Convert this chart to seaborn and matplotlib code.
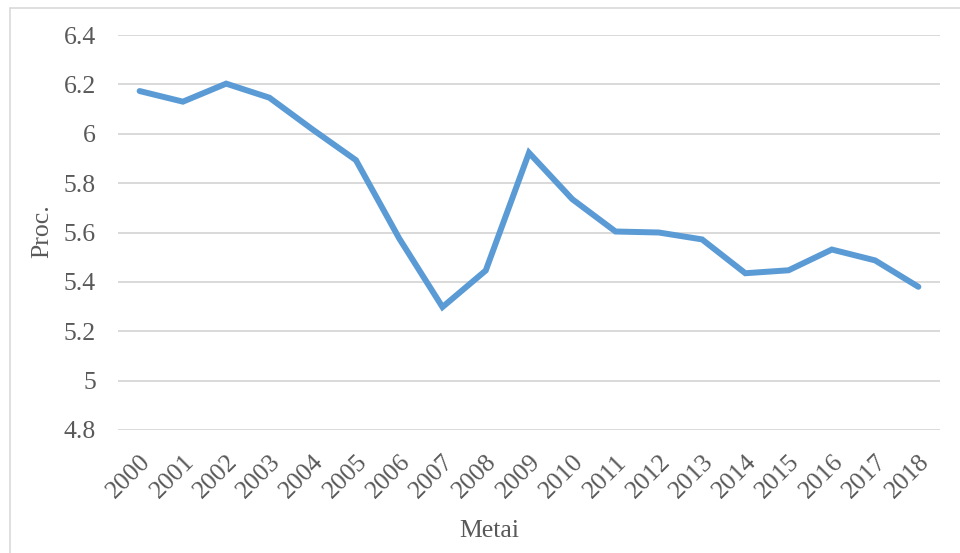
import matplotlib
matplotlib.use("Agg")
import matplotlib.pyplot as plt
import seaborn as sns
import pandas as pd
from matplotlib.lines import Line2D

years = [str(y) for y in range(2000, 2019)]
values = [6.173, 6.130, 6.203, 6.146, 6.017, 5.893, 5.576, 5.298, 5.446,
          5.923, 5.735, 5.604, 5.600, 5.572, 5.435, 5.447, 5.531, 5.487, 5.380]
y_ticks = [4.8, 5.0, 5.2, 5.4, 5.6, 5.8, 6.0, 6.2, 6.4]
y_tick_labels = ["4.8", "5", "5.2", "5.4", "5.6", "5.8", "6", "6.2", "6.4"]

df = pd.DataFrame({"Metai": years, "Proc.": values})

sns.set_theme(style="white")
plt.rcParams["font.family"] = ["Liberation Serif", "DejaVu Serif"]

W, H = 960, 553
fig = plt.figure(figsize=(W / 100, H / 100), dpi=100)
left, right, top, bottom = 118, 940, 35, 430
ax = fig.add_axes([left / W, 1 - bottom / H, (right - left) / W, (bottom - top) / H])

sns.lineplot(data=df, x="Metai", y="Proc.", ax=ax, color="#5B9BD5",
             linewidth=4.3, sort=False, solid_joinstyle="miter",
             solid_capstyle="round")

ax.set_xlim(-0.5, len(years) - 0.5)
ax.set_ylim(4.8, 6.4)
ax.set_yticks(y_ticks)
ax.set_yticklabels(y_tick_labels)
ax.grid(axis="y", color="#D9D9D9", linewidth=1.4)
ax.set_axisbelow(True)
for s in ax.spines.values():
    s.set_visible(False)

ax.tick_params(axis="y", length=0, pad=16, labelsize=18.5, labelcolor="#595959")
ax.tick_params(axis="x", length=0, pad=15, labelsize=18.5, labelcolor="#595959")
plt.setp(ax.get_xticklabels(), rotation=45, ha="right", rotation_mode="anchor")

ax.set_xlabel("")
ax.set_ylabel("")
fig.text(489 / W, 1 - 531 / H, "Metai", ha="center", va="center",
         fontsize=18.5, color="#595959")
fig.text(42 / W, 1 - 231 / H, "Proc.", ha="center", va="center",
         rotation=90, fontsize=18.5, color="#595959")

# light chart-area frame (left and top edges)
fig.add_artist(Line2D([9.5 / W, 9.5 / W], [0, 1 - 7.5 / H],
                      transform=fig.transFigure, color="#D9D9D9", linewidth=1.2))
fig.add_artist(Line2D([9.5 / W, 1], [1 - 7.5 / H, 1 - 7.5 / H],
                      transform=fig.transFigure, color="#D9D9D9", linewidth=1.2))

fig.savefig("out.png", dpi=100, facecolor="white")
